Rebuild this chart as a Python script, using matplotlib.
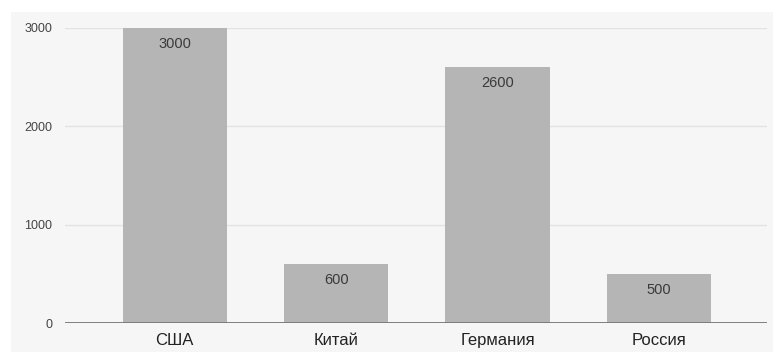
import matplotlib
matplotlib.use("Agg")
import matplotlib.pyplot as plt
from matplotlib.patches import Rectangle

countries = ["США", "Китай", "Германия", "Россия"]
values = [3000, 600, 2600, 500]
yticks = [0, 1000, 2000, 3000]

plt.rcParams["font.family"] = ["Liberation Sans", "DejaVu Sans"]

fig = plt.figure(figsize=(7.73, 3.52), dpi=100)
fig.patch.set_facecolor("white")
# light gray panel behind the chart
fig.patches.append(Rectangle((11 / 773, 0), 1, 1 - 12 / 352, transform=fig.transFigure,
                             facecolor="#f6f6f6", edgecolor="none", zorder=-10))

ax = fig.add_axes([65 / 773, 1 - 323 / 352, (767 - 65) / 773, (323 - 28) / 352])
ax.set_facecolor("none")

x = range(len(countries))
bars = ax.bar(x, values, width=0.645, color="#b5b5b5", zorder=2)

for b, v in zip(bars, values):
    ax.annotate(str(v), (b.get_x() + b.get_width() / 2, v), xytext=(0, -16),
                textcoords="offset pixels",
                ha="center", va="center", fontsize=10.5, color="#3a3a3a", zorder=3)

ax.set_xlim(-0.68, 3.67)
ax.set_ylim(0, 3000)
ax.set_yticks(yticks)
ax.set_yticklabels([str(t) for t in yticks], fontsize=9, color="#444444")
ax.set_xticks(list(x))
ax.set_xticklabels(countries, fontsize=12, color="#222222")

ax.grid(axis="y", color="#e2e2e2", linewidth=1, zorder=1)
ax.axhline(0, color="#777777", linewidth=1.3, zorder=3)
for s in ax.spines.values():
    s.set_visible(False)
ax.tick_params(axis="both", length=0)
ax.tick_params(axis="y", pad=9)
ax.tick_params(axis="x", pad=7)

plt.savefig("out.png", dpi=100)
